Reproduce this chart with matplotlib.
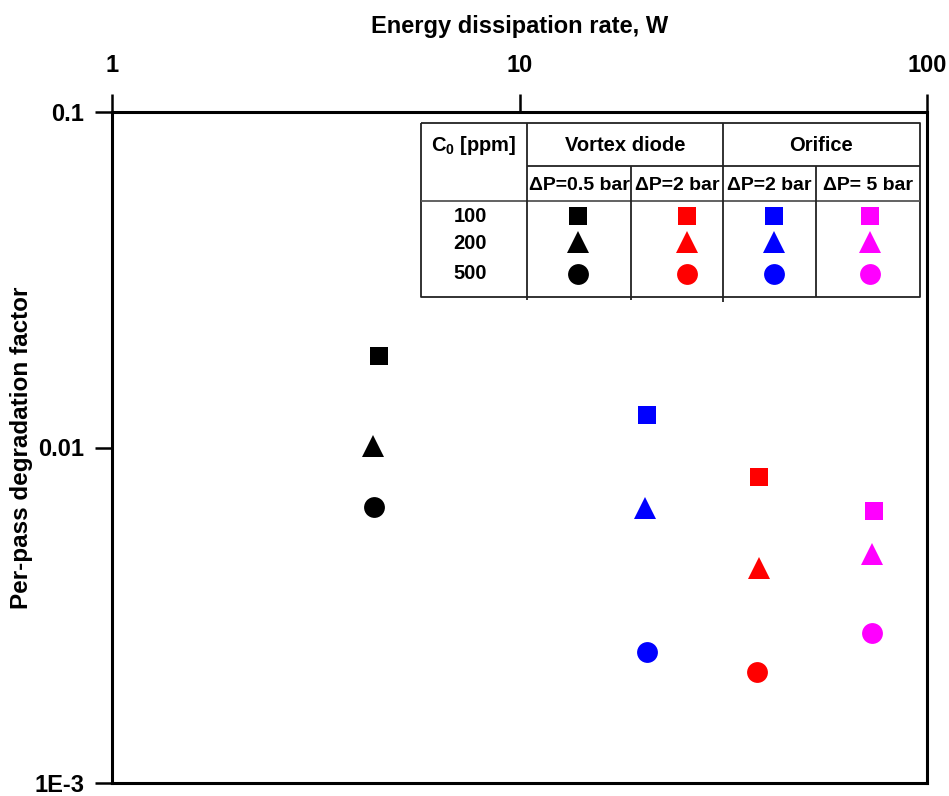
import matplotlib
matplotlib.use("Agg")
import matplotlib.pyplot as plt
from matplotlib.ticker import FixedLocator, FixedFormatter, NullLocator

# ---------------- data ----------------
devices = ["Vortex diode ΔP=0.5 bar", "Vortex diode ΔP=2 bar",
           "Orifice ΔP=2 bar", "Orifice ΔP=5 bar"]
colors = ["#000000", "#FF0000", "#0000FF", "#FF00FF"]
concentrations = ["100", "200", "500"]
markers = ["s", "^", "o"]
marker_sizes = [13.3, 16.5, 15]

# energy dissipation rate (W) per device, for C0 = 100, 200, 500 ppm
energy_100 = [4.51, 38.7, 20.5, 74.2]
energy_200 = [4.38, 38.8, 20.3, 73.3]
energy_500 = [4.40, 38.3, 20.5, 73.4]
# per-pass degradation factor
factor_100 = [0.0188, 0.00814, 0.01247, 0.00648]
factor_200 = [0.0101, 0.00437, 0.00661, 0.00480]
factor_500 = [0.00665, 0.00214, 0.00246, 0.00279]

x_ticks = [1, 10, 100]
x_ticklabels = ["1", "10", "100"]
y_ticks = [0.001, 0.01, 0.1]
y_ticklabels = ["1E-3", "0.01", "0.1"]

# ---------------- style ----------------
plt.rcParams["font.family"] = ["Liberation Sans", "DejaVu Sans"]
plt.rcParams["font.weight"] = "bold"
plt.rcParams["mathtext.fontset"] = "custom"
plt.rcParams["mathtext.rm"] = "Liberation Sans:bold"
plt.rcParams["mathtext.bf"] = "Liberation Sans:bold"

fig = plt.figure(figsize=(9.49, 7.96), dpi=100)
ax = fig.add_axes([112 / 949, 13 / 796, 815 / 949, 671 / 796])

ax.set_xscale("log")
ax.set_yscale("log")
ax.set_xlim(1, 100)
ax.set_ylim(0.001, 0.1)

energies = [energy_100, energy_200, energy_500]
factors = [factor_100, factor_200, factor_500]
for ci in range(len(concentrations)):
    for di in range(len(devices)):
        ax.plot(energies[ci][di], factors[ci][di], linestyle="none",
                marker=markers[ci], markersize=marker_sizes[ci],
                color=colors[di], markeredgewidth=0)

# axes / ticks
ax.xaxis.set_major_locator(FixedLocator(x_ticks))
ax.xaxis.set_major_formatter(FixedFormatter(x_ticklabels))
ax.yaxis.set_major_locator(FixedLocator(y_ticks))
ax.yaxis.set_major_formatter(FixedFormatter(y_ticklabels))
ax.xaxis.set_minor_locator(NullLocator())
ax.yaxis.set_minor_locator(NullLocator())

ax.tick_params(axis="x", top=True, bottom=False, labeltop=True,
               labelbottom=False, direction="out", length=13, width=1.8,
               pad=12, labelsize=17)
ax.tick_params(axis="y", left=True, right=False, direction="out",
               length=12, width=1.8, pad=8, labelsize=17)
for lab in ax.get_xticklabels() + ax.get_yticklabels():
    lab.set_fontweight("bold")
for sp in ax.spines.values():
    sp.set_linewidth(2.2)

ax.xaxis.set_label_position("top")
ax.set_xlabel("Energy dissipation rate, W", fontsize=17, fontweight="bold",
              labelpad=15)
ax.set_ylabel("Per-pass degradation factor", fontsize=17.5, fontweight="bold",
              labelpad=1)

# ---------------- legend table (axes fraction) ----------------
tx = [0.3791, 0.5098, 0.6368, 0.7497, 0.8632, 0.9914]
ty_top, ty_mid, ty_sub, ty_bot = 0.9836, 0.9195, 0.8674, 0.7243
lc = "#222222"
lw = 1.3

def tline(xs, ys, color=lc):
    ax.plot(xs, ys, transform=ax.transAxes, color=color, lw=lw,
            clip_on=False, solid_capstyle="butt")

# outer border
tline([tx[0], tx[5], tx[5], tx[0], tx[0]],
      [ty_top, ty_top, ty_bot, ty_bot, ty_top])
# horizontal lines
tline([tx[1], tx[5]], [ty_mid, ty_mid])
tline([tx[0], tx[5]], [ty_sub, ty_sub], color="#555555")
# vertical lines
tline([tx[1], tx[1]], [ty_top, ty_bot - 0.005])
tline([tx[3], tx[3]], [ty_top, ty_bot - 0.008])
tline([tx[2], tx[2]], [ty_mid, ty_bot - 0.005])
tline([tx[4], tx[4]], [ty_mid, ty_bot])

tkw = dict(transform=ax.transAxes, ha="center", va="center",
           fontweight="bold", fontsize=14.5)
ax.text(0.4442, 0.9508, r"C$_{\mathbf{0}}$ [ppm]", **tkw)
ax.text(0.6294, 0.9508, "Vortex diode", **tkw)
ax.text(0.8699, 0.9508, "Orifice", **tkw)
sub_labels = ["ΔP=0.5 bar", "ΔP=2 bar", "ΔP=2 bar", "ΔP= 5 bar"]
sub_x = [0.5730, 0.6933, 0.8061, 0.9276]
skw = dict(tkw)
skw["fontsize"] = 14
for lbl, xx in zip(sub_labels, sub_x):
    ax.text(xx, 0.8912, lbl, **skw)

row_y = [0.8450, 0.8063, 0.7586]
row_text_y = [0.8450, 0.8033, 0.7586]
mark_x = [0.5718, 0.7055, 0.8123, 0.9301]
for ci, conc in enumerate(concentrations):
    ax.text(0.4393, row_text_y[ci], conc, **tkw)
    for di in range(len(devices)):
        ax.plot(mark_x[di], row_y[ci], transform=ax.transAxes,
                linestyle="none", marker=markers[ci],
                markersize=marker_sizes[ci], color=colors[di],
                markeredgewidth=0, clip_on=False)

fig.savefig("out.png", dpi=100)
